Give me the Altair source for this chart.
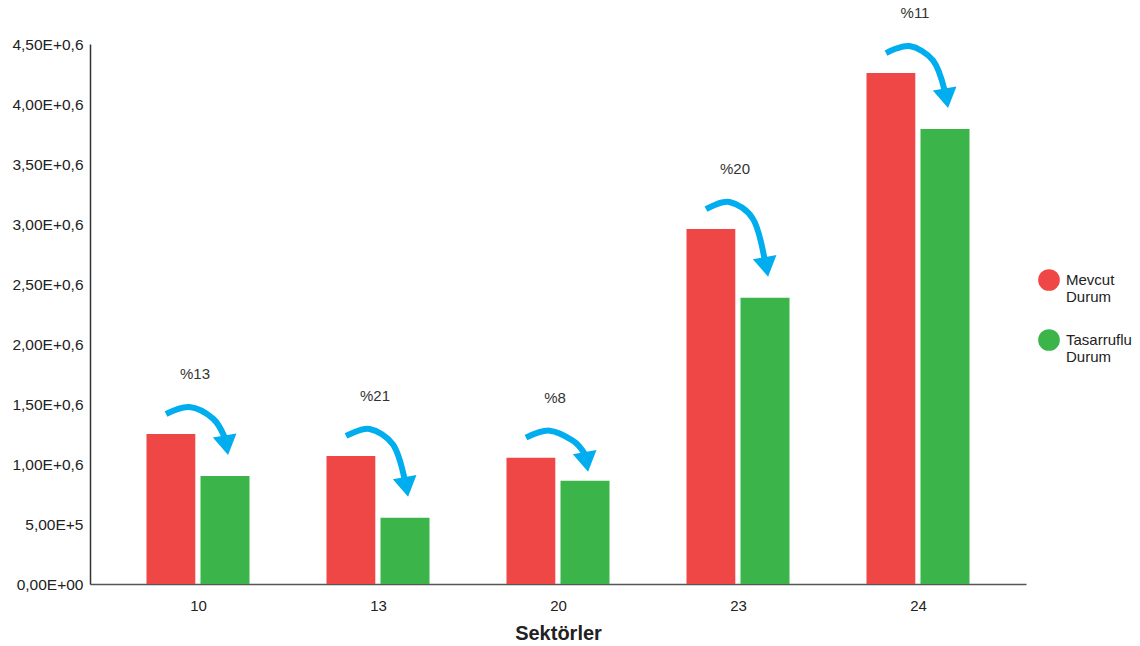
import altair as alt
import pandas as pd

# ---- values -------------------------------------------------------------
sectors = ["10", "13", "20", "23", "24"]
mevcut = [1.250e6, 1.067e6, 1.053e6, 2.958e6, 4.258e6]
tasarruflu = [0.900e6, 0.553e6, 0.861e6, 2.386e6, 3.792e6]
savings = ["%13", "%21", "%8", "%20", "%11"]
series = ["Mevcut Durum", "Tasarruflu Durum"]
y_ticks = [0, 5e5, 1e6, 1.5e6, 2e6, 2.5e6, 3e6, 3.5e6, 4e6, 4.5e6]
y_tick_labels = ["0,00E+00", "5,00E+5", "1,00E+0,6", "1,50E+0,6", "2,00E+0,6",
                 "2,50E+0,6", "3,00E+0,6", "3,50E+0,6", "4,00E+0,6", "4,50E+0,6"]

# ---- geometry / style ---------------------------------------------------
W, H = 936, 540
X_DOMAIN = [-0.6, 4.6]
Y_MAX = 4.5e6
PX_X = (X_DOMAIN[1] - X_DOMAIN[0]) / W   # data units per pixel, x
PX_Y = Y_MAX / H                         # data units per pixel, y

RED, GREEN, BLUE = "#EF4646", "#3BB54A", "#00AEEF"
FONT = "Liberation Sans"
TEXT = "#222222"

# bars: two side-by-side bars per sector on a continuous x scale
bar_rows = []
for i, sec in enumerate(sectors):
    for name, val, (a, b) in ((series[0], mevcut[i], (-51.5, -2.7)),
                              (series[1], tasarruflu[i], (2.5, 51.5))):
        bar_rows.append({"pos": i, "sector": sec, "series": name, "value": val,
                         "x0": i + a * PX_X, "x1": i + b * PX_X})
bars_df = pd.DataFrame(bar_rows)

# curved arrows from the current bar to the efficient bar
arrow_rows, head_rows, label_rows = [], [], []
for i, sec in enumerate(sectors):
    start = mevcut[i] + 20 * PX_Y
    # the arrow always drops at least 16 px before its head
    base = min(tasarruflu[i] + 39 * PX_Y, start - 16 * PX_Y)
    tip = base - 18 * PX_Y
    anchors = [(-32, start), (-8.5, start + 7 * PX_Y),
               (15, start - 0.2 * (start - base)), (26.5, base)]
    for k, (dx, yv) in enumerate(anchors):
        arrow_rows.append({"sector": sec, "k": k, "x": i + dx * PX_X, "y": yv})
    head_rows.append({"sector": sec, "x": i + 28 * PX_X, "y": tip + 11.8 * PX_Y})
    label_rows.append({"sector": sec, "x": i - 3 * PX_X,
                       "y": mevcut[i] + 60 * PX_Y, "text": savings[i]})
arrow_df = pd.DataFrame(arrow_rows)
head_df = pd.DataFrame(head_rows)
label_df = pd.DataFrame(label_rows)

sector_expr = "[" + ",".join(f"'{s}'" for s in sectors) + "][round(datum.value)]"
ytick_expr = "[" + ",".join(f"'{s}'" for s in y_tick_labels) + "][round(datum.value / 500000)]"

x_scale = alt.Scale(domain=X_DOMAIN, nice=False, zero=False)
y_scale = alt.Scale(domain=[0, Y_MAX], nice=False)

x_axis = alt.Axis(values=list(range(len(sectors))), labelExpr=sector_expr,
                  title="Sektörler", grid=False, ticks=False, labelFlush=False,
                  labelPadding=14, labelFontSize=15, labelColor=TEXT, labelFont=FONT,
                  titleFontSize=20, titleFontWeight="bold", titleColor=TEXT,
                  titleFont=FONT, titlePadding=10,
                  domainColor="#555555", domainWidth=1.5)
y_axis = alt.Axis(values=y_ticks, labelExpr=ytick_expr, title=None, grid=False,
                  ticks=False, labelFlush=False, labelPadding=7, labelFontSize=15.5,
                  labelColor=TEXT, labelFont=FONT,
                  domainColor="#333333", domainWidth=1.5)

bars = alt.Chart(bars_df).mark_bar().encode(
    x=alt.X("x0:Q", scale=x_scale, axis=x_axis),
    x2="x1:Q",
    y=alt.Y("value:Q", scale=y_scale, axis=y_axis),
    y2=alt.datum(0),
    color=alt.Color(
        "series:N",
        scale=alt.Scale(domain=series, range=[RED, GREEN]),
        legend=alt.Legend(
            title=None, orient="none", legendX=948, legendY=225,
            symbolType="circle", symbolSize=470, symbolStrokeWidth=0,
            symbolOpacity=1, labelFontSize=15, labelFont=FONT, labelColor=TEXT,
            labelExpr="split(datum.label, ' ')", labelOffset=6, rowPadding=24,
        ),
    ),
)

arrows = alt.Chart(arrow_df).mark_line(
    color=BLUE, strokeWidth=6, strokeCap="butt", interpolate="cardinal"
).encode(
    x=alt.X("x:Q", scale=x_scale),
    y=alt.Y("y:Q", scale=y_scale),
    detail="sector:N",
    order="k:Q",
)

heads = alt.Chart(head_df).mark_point(
    shape="M -1 -0.65 L 1 -0.65 L 0 1 Z", size=576, filled=True,
    color=BLUE, opacity=1, angle=350, strokeWidth=0
).encode(
    x=alt.X("x:Q", scale=x_scale),
    y=alt.Y("y:Q", scale=y_scale),
)

labels = alt.Chart(label_df).mark_text(
    fontSize=15, font=FONT, color="#333333", baseline="middle", align="center"
).encode(
    x=alt.X("x:Q", scale=x_scale),
    y=alt.Y("y:Q", scale=y_scale),
    text="text:N",
)

chart = alt.layer(bars, arrows, heads, labels).properties(
    width=W, height=H, autosize="none",
    padding={"left": 90, "top": 44, "right": 114, "bottom": 62},
).configure_view(stroke=None)

chart.save("out.html", embed_options={"renderer": "svg", "actions": False})
